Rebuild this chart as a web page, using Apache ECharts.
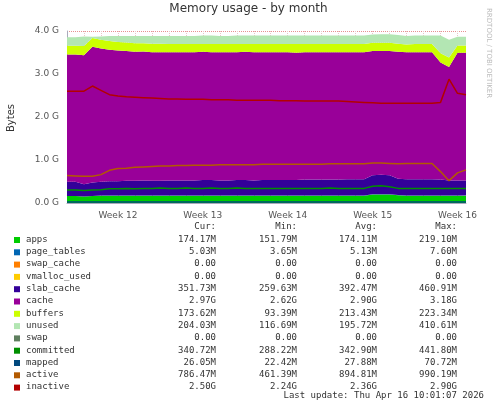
<!DOCTYPE html>
<html>
<head>
<meta charset="UTF-8">
<script src="https://cdn.jsdelivr.net/npm/echarts@6/dist/echarts.min.js"></script>
<style>body{margin:0;background:#fff}#c{width:497px;height:408px}</style>
</head>
<body>
<div id="c"></div>
<script>
// 48 samples, week boundary every 10 samples (Week 12 at index 6)
var weekIdx = {6: 'Week 12', 16: 'Week 13', 26: 'Week 14', 36: 'Week 15', 46: 'Week 16'};
var apps =       [0.16,0.16,0.15,0.16,0.17,0.17,0.17,0.17,0.17,0.17,0.17,0.17,0.17,0.17,0.17,0.17,0.17,0.17,0.17,0.17,0.17,0.17,0.17,0.17,0.17,0.17,0.17,0.17,0.17,0.17,0.17,0.17,0.17,0.17,0.17,0.17,0.2,0.2,0.2,0.18,0.17,0.17,0.17,0.17,0.17,0.17,0.17,0.17];
var pageTables = [0.005,0.005,0.004,0.005,0.005,0.005,0.005,0.005,0.005,0.005,0.005,0.005,0.005,0.005,0.005,0.005,0.005,0.005,0.005,0.005,0.005,0.005,0.005,0.005,0.005,0.005,0.005,0.005,0.005,0.005,0.005,0.005,0.005,0.005,0.005,0.005,0.006,0.006,0.006,0.005,0.005,0.005,0.005,0.005,0.005,0.005,0.005,0.005];
var swapCache =  new Array(48).fill(0);
var vmalloc =    new Array(48).fill(0);
var slab =       [0.33,0.33,0.28,0.31,0.32,0.33,0.33,0.34,0.34,0.35,0.34,0.34,0.35,0.35,0.35,0.35,0.36,0.36,0.35,0.35,0.36,0.36,0.35,0.36,0.36,0.36,0.36,0.36,0.37,0.37,0.37,0.37,0.37,0.38,0.38,0.38,0.44,0.45,0.44,0.38,0.38,0.38,0.38,0.38,0.37,0.35,0.35,0.35];
var cache =      [2.96,2.96,3.0,3.16,3.1,3.06,3.04,3.02,3.0,3.0,2.99,2.99,2.98,2.98,2.98,2.98,2.98,2.97,2.98,2.98,2.97,2.98,2.98,2.97,2.97,2.97,2.97,2.96,2.96,2.96,2.96,2.96,2.96,2.95,2.95,2.95,2.89,2.88,2.89,2.95,2.95,2.95,2.95,2.95,2.72,2.64,2.97,2.97];
var buffers =    [0.2,0.2,0.22,0.2,0.2,0.2,0.2,0.2,0.2,0.19,0.2,0.2,0.19,0.19,0.19,0.19,0.18,0.19,0.19,0.19,0.19,0.18,0.19,0.19,0.19,0.19,0.19,0.2,0.19,0.19,0.19,0.19,0.19,0.19,0.19,0.19,0.19,0.19,0.19,0.19,0.18,0.19,0.19,0.19,0.22,0.22,0.17,0.17];
var unused =     [0.2,0.2,0.22,0.03,0.08,0.12,0.14,0.15,0.17,0.17,0.18,0.18,0.19,0.19,0.19,0.19,0.2,0.2,0.19,0.19,0.2,0.2,0.2,0.2,0.2,0.2,0.2,0.2,0.2,0.2,0.2,0.2,0.2,0.2,0.2,0.2,0.19,0.2,0.2,0.2,0.2,0.2,0.2,0.2,0.41,0.41,0.2,0.2];
var swap =       new Array(48).fill(0);
var committed =  [0.3,0.3,0.29,0.3,0.31,0.33,0.33,0.34,0.33,0.34,0.34,0.35,0.34,0.34,0.35,0.34,0.34,0.35,0.34,0.34,0.35,0.34,0.34,0.34,0.34,0.34,0.34,0.34,0.34,0.34,0.34,0.35,0.34,0.34,0.34,0.34,0.39,0.4,0.38,0.34,0.34,0.34,0.34,0.34,0.34,0.34,0.34,0.34];
var mapped =     new Array(48).fill(0.026);
var active =     [0.64,0.63,0.62,0.62,0.66,0.76,0.8,0.81,0.83,0.84,0.85,0.86,0.86,0.87,0.87,0.88,0.88,0.88,0.89,0.89,0.89,0.89,0.89,0.9,0.9,0.9,0.9,0.9,0.9,0.9,0.9,0.91,0.91,0.91,0.91,0.91,0.93,0.93,0.92,0.91,0.92,0.92,0.92,0.92,0.73,0.52,0.7,0.77];
var inactive =   [2.6,2.6,2.6,2.72,2.62,2.52,2.49,2.47,2.46,2.45,2.44,2.43,2.42,2.42,2.41,2.41,2.41,2.40,2.40,2.40,2.39,2.39,2.39,2.39,2.39,2.38,2.38,2.38,2.37,2.37,2.37,2.37,2.37,2.36,2.35,2.34,2.33,2.32,2.32,2.32,2.32,2.32,2.32,2.32,2.34,2.88,2.55,2.52];

var stacked = [
  ['apps', apps, '#00cc00'], ['page_tables', pageTables, '#0066b3'], ['swap_cache', swapCache, '#ff8000'],
  ['vmalloc_used', vmalloc, '#ffcc00'], ['slab_cache', slab, '#330099'], ['cache', cache, '#990099'],
  ['buffers', buffers, '#ccff00'], ['unused', unused, '#b3e6b3'], ['swap', swap, '#5f7f5f']
];
var lines = [
  ['committed', committed, '#008f00'], ['mapped', mapped, '#00487d'],
  ['active', active, '#b35a00'], ['inactive', inactive, '#b30000']
];
var tableRows = [
  ['apps','174.17M','151.79M','174.11M','219.10M'],
  ['page_tables','5.03M','3.65M','5.13M','7.60M'],
  ['swap_cache','0.00','0.00','0.00','0.00'],
  ['vmalloc_used','0.00','0.00','0.00','0.00'],
  ['slab_cache','351.73M','259.63M','392.47M','460.91M'],
  ['cache','2.97G','2.62G','2.90G','3.18G'],
  ['buffers','173.62M','93.39M','213.43M','223.34M'],
  ['unused','204.03M','116.69M','195.72M','410.61M'],
  ['swap','0.00','0.00','0.00','0.00'],
  ['committed','340.72M','288.22M','342.90M','441.80M'],
  ['mapped','26.05M','22.42M','27.88M','70.72M'],
  ['active','786.47M','461.39M','894.81M','990.19M'],
  ['inactive','2.50G','2.24G','2.36G','2.90G']
];

var cats = apps.map(function (v, i) { return i; });
var series = [];
stacked.forEach(function (s) {
  series.push({ name: s[0], type: 'line', stack: 'mem', data: s[1], symbol: 'none',
    lineStyle: { width: 0 }, areaStyle: { color: s[2], opacity: 1 }, itemStyle: { color: s[2] } });
});
lines.forEach(function (s) {
  series.push({ name: s[0], type: 'line', data: s[1], symbol: 'none',
    lineStyle: { width: 1.5, color: s[2] }, itemStyle: { color: s[2] }, z: 5 });
});

var colorOf = {};
stacked.concat(lines).forEach(function (s) { colorOf[s[0]] = s[2]; });

var mono = 'DejaVu Sans Mono';
var g = [
  { type: 'text', left: 'center', top: 3, style: { text: 'Memory usage - by month', font: '12px DejaVu Sans', fill: '#333' } },
  { type: 'text', x: 6, y: 132, rotation: Math.PI / 2, style: { text: 'Bytes', font: '10px DejaVu Sans', fill: '#333' } },
  { type: 'text', x: 492, y: 8, rotation: -Math.PI / 2, style: { text: 'RRDTOOL / TOBI OETIKER', font: '7px DejaVu Sans', fill: '#bbb' } }
];
var cols = [216, 297, 377, 457];
['Cur:', 'Min:', 'Avg:', 'Max:'].forEach(function (h, i) {
  g.push({ type: 'text', x: cols[i], y: 222, style: { text: h, font: '9px ' + mono, fill: '#333', align: 'right' } });
});
tableRows.forEach(function (r, k) {
  var y = 235 + k * 12.3;
  g.push({ type: 'rect', shape: { x: 14, y: y + 2, width: 6, height: 6 }, style: { fill: colorOf[r[0]] } });
  g.push({ type: 'text', x: 26, y: y, style: { text: r[0], font: '9px ' + mono, fill: '#333' } });
  for (var i = 1; i < 5; i++) {
    g.push({ type: 'text', x: cols[i - 1], y: y, style: { text: r[i], font: '9px ' + mono, fill: '#333', align: 'right' } });
  }
});
g.push({ type: 'text', x: 484, y: 391, style: { text: 'Last update: Thu Apr 16 10:01:07 2026', font: '9px ' + mono, fill: '#333', align: 'right' } });

var chart = echarts.init(document.getElementById('c'));
chart.setOption({
  animation: false,
  backgroundColor: '#fff',
  grid: { left: 67, right: 31, top: 31, bottom: 205 },
  xAxis: {
    type: 'category', data: cats, boundaryGap: false,
    axisLine: { lineStyle: { color: '#aab' } }, axisTick: { show: false },
    axisLabel: { interval: 0, color: '#555', fontSize: 9, fontFamily: 'DejaVu Sans',
      formatter: function (v, i) { return weekIdx[i] || ''; } },
    splitLine: { show: true, interval: function (i) { return i % 2 === 0; }, lineStyle: { color: '#e8c8c8', type: 'dotted' } }
  },
  yAxis: {
    type: 'value', min: 0, max: 4, interval: 1,
    name: '', axisLine: { show: true, lineStyle: { color: '#aab' } }, axisTick: { show: false },
    axisLabel: { color: '#555', fontSize: 9, fontFamily: 'DejaVu Sans', formatter: function (v) { return v.toFixed(1) + ' G'; } },
    splitLine: { lineStyle: { color: '#e89090', type: 'dotted' } },
    minorTick: { show: false, splitNumber: 4 },
    minorSplitLine: { show: true, lineStyle: { color: '#e8c8c8', type: 'dotted' } }
  },
  series: series,
  graphic: g
});
</script>
</body>
</html>
